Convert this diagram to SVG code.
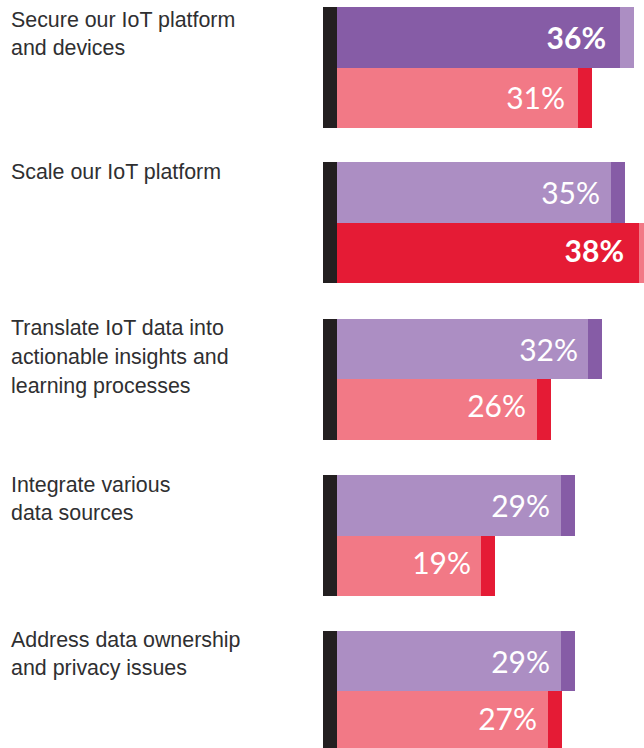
<svg xmlns="http://www.w3.org/2000/svg" width="644" height="748" viewBox="0 0 644 748">
<style>
.lbl{font-family:"Liberation Sans",Arial,sans-serif;font-size:21.4px;fill:#2f2f31}
.pct{font-family:Lato,"Liberation Sans",sans-serif;font-size:30px;fill:#ffffff;text-anchor:end;font-weight:400}
.b{font-weight:700}
.axis{fill:#231f20}
.dp{fill:#865ca6}
.lp{fill:#ac8ec3}
.pk{fill:#f27986}
.rd{fill:#e51b35}
</style>
<rect width="644" height="748" fill="#ffffff"/>
<g id="row1">
<text class="lbl" x="11" y="27">Secure our IoT platform</text>
<text class="lbl" x="11" y="55">and devices</text>
<rect class="axis" x="323" y="7" width="14" height="121"/>
<rect class="dp" x="337" y="7" width="283" height="61"/>
<rect class="lp" x="620" y="7" width="14" height="61"/>
<rect class="pk" x="337" y="68" width="241" height="60"/>
<rect class="rd" x="578" y="68" width="14" height="60"/>
<text class="pct b" x="606" y="49">36%</text>
<text class="pct" x="565" y="109">31%</text>
</g>
<g id="row2">
<text class="lbl" x="11" y="179">Scale our IoT platform</text>
<rect class="axis" x="323" y="162" width="14" height="121"/>
<rect class="lp" x="337" y="162" width="274" height="61"/>
<rect class="dp" x="611" y="162" width="14" height="61"/>
<rect class="rd" x="337" y="223" width="302" height="60"/>
<rect class="pk" x="639" y="223" width="5" height="60"/>
<text class="pct b" x="624" y="262">38%</text>
<text class="pct" x="600" y="204">35%</text>
</g>
<g id="row3">
<text class="lbl" x="11" y="335">Translate IoT data into</text>
<text class="lbl" x="11" y="364">actionable insights and</text>
<text class="lbl" x="11" y="393">learning processes</text>
<rect class="axis" x="323" y="319" width="14" height="121"/>
<rect class="lp" x="337" y="319" width="251" height="60"/>
<rect class="dp" x="588" y="319" width="14" height="60"/>
<rect class="pk" x="337" y="379" width="200" height="61"/>
<rect class="rd" x="537" y="379" width="14" height="61"/>
<text class="pct" x="578" y="361">32%</text>
<text class="pct" x="526" y="417">26%</text>
</g>
<g id="row4">
<text class="lbl" x="11" y="492">Integrate various</text>
<text class="lbl" x="11" y="520">data sources</text>
<rect class="axis" x="323" y="475" width="14" height="121"/>
<rect class="lp" x="337" y="475" width="224" height="61"/>
<rect class="dp" x="561" y="475" width="14" height="61"/>
<rect class="pk" x="337" y="536" width="144" height="60"/>
<rect class="rd" x="481" y="536" width="14" height="60"/>
<text class="pct" x="550" y="517">29%</text>
<text class="pct" x="471" y="574">19%</text>
</g>
<g id="row5">
<text class="lbl" x="11" y="647">Address data ownership</text>
<text class="lbl" x="11" y="675">and privacy issues</text>
<rect class="axis" x="323" y="631" width="14" height="117"/>
<rect class="lp" x="337" y="631" width="224" height="60"/>
<rect class="dp" x="561" y="631" width="14" height="60"/>
<rect class="pk" x="337" y="691" width="211" height="57"/>
<rect class="rd" x="548" y="691" width="14" height="57"/>
<text class="pct" x="550" y="673">29%</text>
<text class="pct" x="537" y="730">27%</text>
</g>
<g id="connectors"></g>
</svg>
